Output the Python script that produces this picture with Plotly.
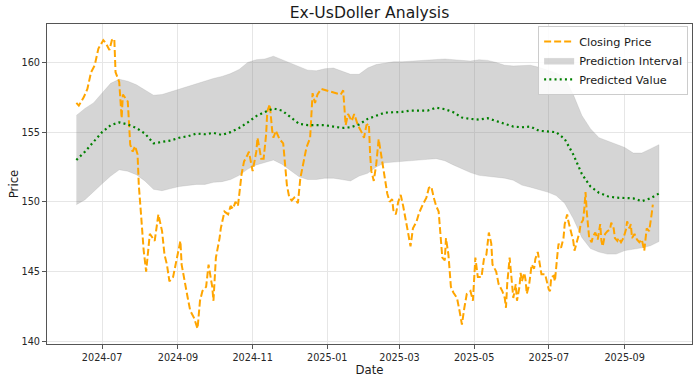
import pandas as pd
import plotly.graph_objects as go

# ---------------- data ----------------
close_dates = [
    "2024-06-10", "2024-06-12", "2024-06-16", "2024-06-19", "2024-06-22", "2024-06-25", "2024-06-28",
    "2024-07-02", "2024-07-04", "2024-07-07", "2024-07-09", "2024-07-11", "2024-07-12", "2024-07-15",
    "2024-07-17", "2024-07-18", "2024-07-22", "2024-07-24", "2024-07-26", "2024-07-28", "2024-07-30",
    "2024-07-31", "2024-08-02", "2024-08-04", "2024-08-06", "2024-08-07", "2024-08-09", "2024-08-13",
    "2024-08-16", "2024-08-19", "2024-08-21", "2024-08-23", "2024-08-25", "2024-08-28", "2024-08-31",
    "2024-09-03", "2024-09-04", "2024-09-07", "2024-09-09", "2024-09-11", "2024-09-14", "2024-09-17",
    "2024-09-19", "2024-09-21", "2024-09-24", "2024-09-26", "2024-09-29", "2024-09-30", "2024-10-02",
    "2024-10-05", "2024-10-06", "2024-10-09", "2024-10-12", "2024-10-14", "2024-10-16", "2024-10-18",
    "2024-10-20", "2024-10-23", "2024-10-25", "2024-10-28", "2024-10-29", "2024-11-01", "2024-11-04",
    "2024-11-05", "2024-11-08", "2024-11-10", "2024-11-12", "2024-11-13", "2024-11-15", "2024-11-17",
    "2024-11-18", "2024-11-20", "2024-11-23", "2024-11-26", "2024-11-27", "2024-11-29", "2024-12-01",
    "2024-12-03", "2024-12-05", "2024-12-08", "2024-12-10", "2024-12-12", "2024-12-15", "2024-12-18",
    "2024-12-19", "2024-12-20", "2024-12-22", "2024-12-24", "2024-12-27", "2025-01-04", "2025-01-12",
    "2025-01-14", "2025-01-16", "2025-01-18", "2025-01-21", "2025-01-23", "2025-01-26", "2025-01-29",
    "2025-01-31", "2025-02-02", "2025-02-04", "2025-02-05", "2025-02-06", "2025-02-08", "2025-02-10",
    "2025-02-12", "2025-02-13", "2025-02-15", "2025-02-17", "2025-02-19", "2025-02-21", "2025-02-23",
    "2025-02-24", "2025-02-26", "2025-02-28", "2025-03-02", "2025-03-04", "2025-03-06", "2025-03-08",
    "2025-03-10", "2025-03-12", "2025-03-15", "2025-03-17", "2025-03-20", "2025-03-23", "2025-03-25",
    "2025-03-27", "2025-03-29", "2025-03-31", "2025-04-02", "2025-04-04", "2025-04-05", "2025-04-07",
    "2025-04-08", "2025-04-10", "2025-04-11", "2025-04-12", "2025-04-14", "2025-04-17", "2025-04-19",
    "2025-04-21", "2025-04-23", "2025-04-25", "2025-04-28", "2025-04-30", "2025-05-02", "2025-05-04",
    "2025-05-07", "2025-05-09", "2025-05-11", "2025-05-13", "2025-05-15", "2025-05-16", "2025-05-19",
    "2025-05-21", "2025-05-24", "2025-05-26", "2025-05-27", "2025-05-28", "2025-05-30", "2025-06-01",
    "2025-06-02", "2025-06-04", "2025-06-05", "2025-06-07", "2025-06-08", "2025-06-09", "2025-06-11",
    "2025-06-12", "2025-06-13", "2025-06-15", "2025-06-16", "2025-06-17", "2025-06-19", "2025-06-20",
    "2025-06-22", "2025-06-24", "2025-06-25", "2025-06-28", "2025-06-29", "2025-07-01", "2025-07-02",
    "2025-07-03", "2025-07-05", "2025-07-06", "2025-07-08", "2025-07-09", "2025-07-11", "2025-07-13",
    "2025-07-14", "2025-07-16", "2025-07-17", "2025-07-19", "2025-07-21", "2025-07-22", "2025-07-24",
    "2025-07-26", "2025-07-27", "2025-07-29", "2025-07-30", "2025-07-31", "2025-08-01", "2025-08-02",
    "2025-08-03", "2025-08-05", "2025-08-06", "2025-08-08", "2025-08-10", "2025-08-12", "2025-08-13",
    "2025-08-14", "2025-08-16", "2025-08-18", "2025-08-20", "2025-08-21", "2025-08-23", "2025-08-24",
    "2025-08-26", "2025-08-27", "2025-08-29", "2025-08-31", "2025-09-02", "2025-09-03", "2025-09-05",
    "2025-09-06", "2025-09-07", "2025-09-09", "2025-09-11", "2025-09-13", "2025-09-15", "2025-09-17",
    "2025-09-18", "2025-09-19", "2025-09-21", "2025-09-22", "2025-09-23", "2025-09-24",
]
close_values = [
    157.1, 156.9, 157.5, 158.1, 159.3, 159.8, 161.0,
    161.6, 161.4, 160.9, 161.6, 161.7, 159.3, 158.6,
    156.0, 157.7, 157.2, 154.1, 153.6, 154.0, 153.4,
    151.2, 148.9, 146.5, 145.0, 146.0, 147.7, 147.2,
    149.1, 147.9, 146.2, 145.5, 144.3, 144.6, 146.0,
    147.2, 145.5, 143.9, 143.1, 142.2, 141.7, 140.9,
    142.9, 143.6, 143.9, 145.5, 143.9, 142.9, 146.0,
    147.4, 148.1, 149.3, 149.1, 149.7, 149.5, 150.0,
    149.7, 152.0, 152.9, 153.4, 153.6, 152.2, 153.6,
    154.6, 153.1, 153.1, 154.8, 156.5, 157.0, 155.1,
    154.6, 155.1, 154.5, 154.2, 153.1, 151.2, 150.3,
    150.1, 150.3, 149.9, 151.7, 152.7, 153.9, 154.6,
    156.0, 157.8, 157.1, 157.7, 158.1, 157.9, 157.7,
    158.0, 155.5, 156.3, 155.8, 156.3, 155.5, 155.0,
    154.6, 155.5, 155.6, 153.4, 152.2, 151.5, 152.7,
    154.5, 153.9, 152.7, 151.8, 150.6, 150.0, 150.2,
    149.4, 149.1, 150.0, 150.5, 149.7, 148.6, 147.8,
    146.8, 148.1, 148.6, 149.2, 149.8, 150.3, 151.0,
    151.1, 150.3, 149.7, 149.3, 147.2, 146.0, 145.8,
    147.4, 146.2, 145.3, 143.9, 143.5, 143.1, 142.2,
    141.2, 142.4, 143.4, 143.6, 142.9, 146.0, 144.6,
    144.6, 145.9, 146.2, 147.8, 147.0, 145.5, 145.0,
    144.1, 143.6, 143.1, 142.4, 144.1, 146.0, 143.6,
    143.1, 144.1, 142.9, 143.9, 144.9, 144.3, 144.9,
    144.4, 143.4, 144.1, 145.0, 145.5, 145.2, 145.9,
    146.4, 145.5, 144.8, 144.8, 144.4, 143.7, 143.6,
    144.6, 144.7, 144.3, 146.2, 147.0, 146.7, 147.4,
    148.4, 149.1, 148.6, 147.9, 147.2, 146.5, 147.2,
    147.8, 148.4, 148.7, 149.5, 150.7, 149.3, 148.4,
    147.4, 147.1, 147.5, 147.8, 147.3, 148.4, 147.2,
    146.8, 147.7, 147.9, 148.0, 148.5, 148.1, 147.4,
    147.2, 147.4, 147.1, 147.4, 148.0, 148.6, 148.1,
    148.4, 147.4, 147.7, 147.3, 147.1, 147.3, 146.5,
    147.4, 148.1, 147.9, 148.4, 149.1, 149.8,
]

# weekly grid for the model output
pred_dates = pd.date_range("2024-06-10", periods=69, freq="7D")
pred_values = [
    153.0, 153.6, 154.3, 155.0, 155.5, 155.7, 155.55, 155.3, 154.9, 154.2,
    154.3, 154.4, 154.6, 154.7, 154.9, 154.85, 154.95, 154.8, 155.0, 155.3,
    155.7, 156.15, 156.45, 156.7, 156.55, 156.1, 155.6, 155.5, 155.5, 155.5,
    155.4, 155.3, 155.35, 155.55, 155.95, 156.2, 156.4, 156.43, 156.45, 156.55,
    156.55, 156.55, 156.75, 156.65, 156.43, 156.05, 155.95, 155.9, 156.0, 155.8,
    155.6, 155.4, 155.35, 155.4, 155.1, 155.05, 155.0, 154.5, 153.4, 152.0,
    151.1, 150.65, 150.4, 150.3, 150.3, 150.25, 150.05, 150.25, 150.6,
]
upper_values = [
    156.2, 156.7, 157.1, 157.8, 158.5, 158.8, 158.65, 158.4, 158.0, 157.65,
    157.7, 157.9, 158.1, 158.25, 158.5, 158.7, 158.85, 159.0, 159.2, 159.5,
    160.0, 160.2, 160.25, 160.45, 160.2, 160.0, 159.7, 159.45, 159.4, 159.55,
    159.6, 159.4, 159.15, 159.15, 159.6, 159.85, 159.95, 160.05, 160.05, 160.1,
    160.15, 160.2, 160.25, 160.25, 160.2, 160.15, 160.1, 160.2, 160.15, 160.0,
    159.8, 159.75, 159.75, 159.8, 159.65, 159.45, 159.25, 158.9, 157.7, 156.2,
    155.25, 154.6, 154.35, 154.1, 153.9, 153.5, 153.5, 153.8, 154.1,
]
lower_values = [
    149.8, 150.15, 150.75, 151.3, 151.85, 152.3, 152.2, 151.95, 151.5, 150.9,
    150.8, 150.95, 151.1, 151.2, 151.25, 151.25, 151.4, 151.45, 151.6, 151.9,
    152.35, 152.65, 152.85, 153.0, 152.7, 152.25, 151.8, 151.6, 151.6, 151.7,
    151.7, 151.6, 151.5, 151.85, 152.05, 152.5, 152.8, 152.9, 152.95, 153.0,
    153.0, 153.05, 153.1, 152.95, 152.65, 152.35, 152.1, 151.9, 151.8, 151.75,
    151.7, 151.55, 151.2, 151.05, 150.9, 150.7, 150.45, 149.9, 148.8, 147.45,
    146.65, 146.4, 146.25, 146.25, 146.5, 146.6, 146.7, 146.85, 147.15,
]

# ---------------- figure ----------------
FONT = "DejaVu Sans"
band_x = list(pred_dates) + list(pred_dates[::-1])
band_y = upper_values + lower_values[::-1]

fig = go.Figure()
fig.add_trace(go.Scatter(
    x=band_x, y=band_y, fill="toself", mode="lines",
    line=dict(width=0.6, color="rgba(150,150,150,0.35)"),
    fillcolor="rgba(128,128,128,0.33)",
    name="Prediction Interval", legendrank=2, hoverinfo="skip",
))
fig.add_trace(go.Scatter(
    x=close_dates, y=close_values, mode="lines",
    line=dict(color="#FFA500", width=2, dash="7px,3px"),
    name="Closing Price", legendrank=1,
))
fig.add_trace(go.Scatter(
    x=pred_dates, y=pred_values, mode="lines",
    line=dict(color="#008000", width=2.2, dash="2px,3.2px"),
    name="Predicted Value", legendrank=3,
))

axis_common = dict(
    showline=True, linecolor="#555555", linewidth=1, mirror=True,
    ticks="outside", ticklen=4, tickwidth=1, tickcolor="#555555",
    showgrid=True, gridcolor="#e6e6e6", gridwidth=0.8,
    zeroline=False, automargin=False,
    tickfont=dict(family=FONT, size=9.7, color="#262626"),
)

fig.update_layout(
    width=700, height=383,
    margin=dict(l=47, r=8, t=24, b=39),
    paper_bgcolor="white", plot_bgcolor="white",
    font=dict(family=FONT, color="#1a1a1a"),
    title=dict(text="Ex-UsDoller Analysis", x=0.5, xref="paper",
               y=1 - 13 / 383, yref="container", yanchor="middle",
               font=dict(family=FONT, size=15.6, color="#1a1a1a")),
    xaxis=dict(
        type="date", range=["2024-05-17", "2025-10-26"],
        tick0="2024-07-01", dtick="M2", tickformat="%Y-%m",
        title=dict(text="Date", font=dict(family=FONT, size=11.7, color="#1a1a1a"), standoff=4),
        **axis_common,
    ),
    yaxis=dict(
        range=[139.8, 162.76], tick0=140, dtick=5,
        title=dict(text="Price", font=dict(family=FONT, size=11.7, color="#1a1a1a"), standoff=0),
        **axis_common,
    ),
    legend=dict(
        x=0.994, y=0.994, xanchor="right", yanchor="top",
        bgcolor="rgba(255,255,255,0.85)", bordercolor="#cccccc", borderwidth=1,
        font=dict(family=FONT, size=11.3, color="#1a1a1a"),
        itemwidth=30, tracegroupgap=0,
    ),
    showlegend=True,
)

fig.write_html(
    "out.html",
    config={"displayModeBar": False},
    post_script="document.body.style.margin='0px';document.body.style.overflow='hidden';",
)
